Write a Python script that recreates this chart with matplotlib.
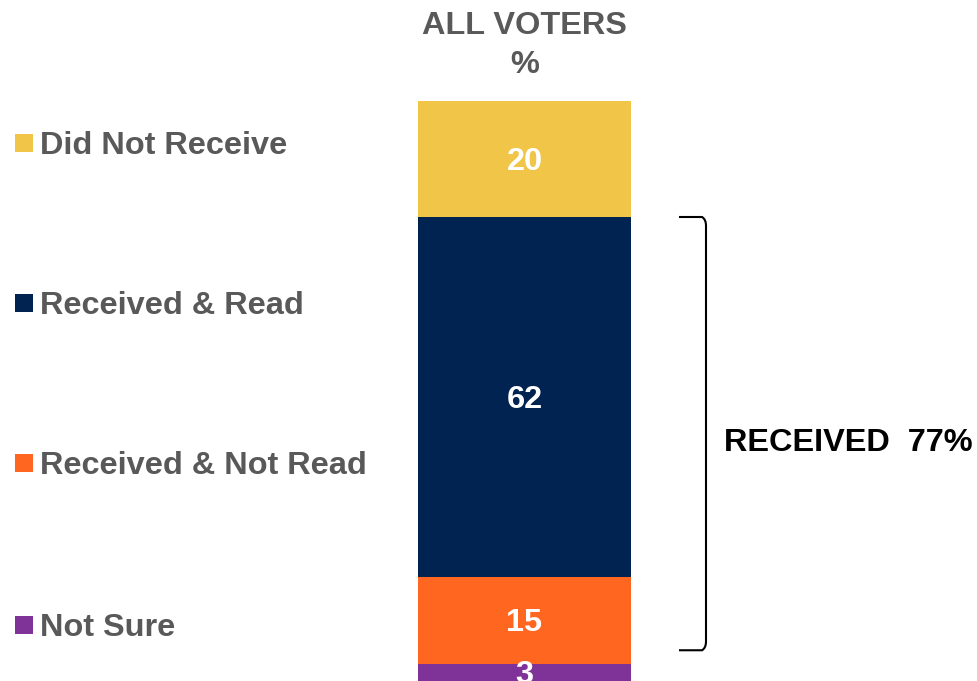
import matplotlib.pyplot as plt
from matplotlib.path import Path
from matplotlib.patches import PathPatch

plt.rcParams['font.family'] = ['Liberation Sans', 'DejaVu Sans']

# data, bottom to top
categories = ['Not Sure', 'Received & Not Read', 'Received & Read', 'Did Not Receive']
values = [3, 15, 62, 20]
colors = ['#7F3399', '#FF6720', '#002352', '#F0C548']
received_total = 77

gray = '#595959'
fs = 23.4
dy = -0.5  # nudge text down a little, va='center' sits a bit high

fig = plt.figure(figsize=(9.78, 6.81), dpi=100)
ax = fig.add_axes([0, 0, 1, 1])
ax.set_xlim(0, 978)
ax.set_ylim(0, 100 * 681 / 580)
ax.axis('off')

# stacked bar
bottom = 0
for cat, v, c in zip(categories, values, colors):
    ax.bar(524.5, v, width=213, bottom=bottom, color=c, edgecolor='none')
    ax.text(524.5, bottom + v / 2 + dy, str(v), ha='center', va='center',
            color='white', fontsize=fs, fontweight='bold')
    bottom += v

# header
ax.text(524.5, 113.4 + dy, 'ALL VOTERS', ha='center', va='center',
        color=gray, fontsize=fs, fontweight='bold')
ax.text(524.5, 106.7 + dy, '%', ha='center', va='center',
        color=gray, fontsize=fs, fontweight='bold')

# legend on the left
legend_y = [9.66, 37.6, 65.2, 92.8]
for cat, c, y in zip(categories, colors, legend_y):
    ax.scatter(23.5, y, marker='s', s=150, color=c, linewidths=0)
    ax.text(40, y + dy, cat, ha='left', va='center', color=gray,
            fontsize=fs, fontweight='bold')

# bracket for received
top, bot = 80.0, 5.3
xl, xr = 679, 706
verts = [(xl, top), (xr - 4, top), (xr, top - 0.4), (xr, top - 1.5),
         (xr, bot + 1.5), (xr, bot + 0.4), (xr - 4, bot), (xl, bot)]
codes = [Path.MOVETO, Path.LINETO, Path.CURVE3, Path.CURVE3,
         Path.LINETO, Path.CURVE3, Path.CURVE3, Path.LINETO]
ax.add_patch(PathPatch(Path(verts, codes), fill=False, lw=1.5, color='black'))

ax.text(724, 41.5 + dy, f'RECEIVED  {received_total}%', ha='left',
        va='center', color='black', fontsize=fs, fontweight='bold')

fig.savefig('out.png', dpi=100)
